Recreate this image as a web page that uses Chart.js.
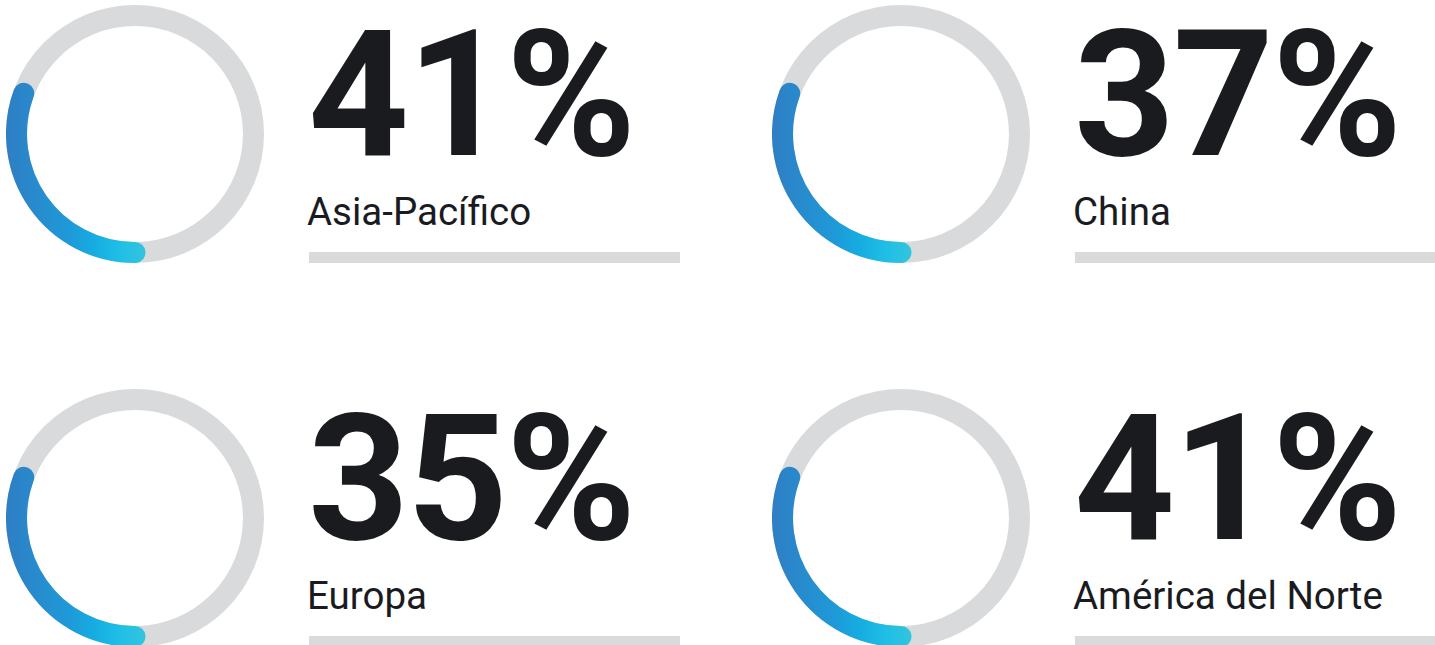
<!DOCTYPE html>
<html>
<head>
<meta charset="utf-8">
<script src="https://cdn.jsdelivr.net/npm/chart.js@4"></script>
<style>
  html, body { margin: 0; padding: 0; background: #fff; }
  body { width: 1435px; height: 645px; overflow: hidden; position: relative; font-family: Roboto, "Noto Sans", sans-serif; color: #1a1b1f; }
  .panel { position: absolute; width: 700px; height: 384px; }
  .ring { position: absolute; left: 6px; top: 5px; width: 258px; height: 258px; }
  .value { position: absolute; left: 308px; top: 7px; font-size: 176px; font-weight: 700; line-height: 1; letter-spacing: -2px; white-space: nowrap; }
  .label { position: absolute; left: 307px; top: 193px; font-size: 38.5px; font-weight: 400; line-height: 1; white-space: nowrap; }
  .rule { position: absolute; left: 309px; top: 252px; height: 11px; background: #d9dadc; }
</style>
</head>
<body>
<script>
// region names and the big percentages shown next to each ring
const regions = ['Asia-Pacífico', 'China', 'Europa', 'América del Norte'];
const percents = [41, 37, 35, 41];
// share of the ring that is filled in the picture (all four look the same)
const ringFill = [33.4, 33.4, 33.4, 33.4];

const panelPos = [
    { left: 0, top: 0, rule: 371 },
    { left: 766, top: 0, rule: 360 },
    { left: 0, top: 384, rule: 371 },
    { left: 766, top: 384, rule: 360 }
];

// grey track under the coloured arc, using the arc element's geometry
const trackPlugin = {
    id: 'track',
    beforeDatasetsDraw(chart) {
        const arc = chart.getDatasetMeta(0).data[0];
        if (!arc) return;
        const { x, y, innerRadius, outerRadius } = arc.getProps(['x', 'y', 'innerRadius', 'outerRadius'], true);
        const ctx = chart.ctx;
        ctx.save();
        ctx.beginPath();
        ctx.arc(x, y, outerRadius, 0, Math.PI * 2);
        ctx.arc(x, y, innerRadius, 0, Math.PI * 2, true);
        ctx.fillStyle = '#d9dadc';
        ctx.fill('evenodd');
        ctx.restore();
    }
};

function arcColor(context) {
    if (context.dataIndex !== 0) return 'rgba(0,0,0,0)';
    const chart = context.chart;
    const area = chart.chartArea;
    if (!area) return '#1aa3dc';
    const g = chart.ctx.createLinearGradient(area.left, 0, area.left + area.width / 2 + 12, 0);
    g.addColorStop(0, '#2f7ec4');
    g.addColorStop(0.45, '#1e9ad8');
    g.addColorStop(0.62, '#16ace1');
    g.addColorStop(0.8, '#1fbee5');
    g.addColorStop(1, '#33c5de');
    return g;
}

regions.forEach((name, i) => {
    const pos = panelPos[i];
    const panel = document.createElement('div');
    panel.className = 'panel';
    panel.style.left = pos.left + 'px';
    panel.style.top = pos.top + 'px';
    panel.innerHTML = `
        <div class="ring"><canvas></canvas></div>
        <div class="value">${percents[i]}%</div>
        <div class="label">${name}</div>
        <div class="rule" style="width:${pos.rule}px"></div>
    `;
    document.body.appendChild(panel);

    const canvas = panel.querySelector('canvas');
    new Chart(canvas, {
        type: 'doughnut',
        data: {
            labels: [name, ''],
            datasets: [{
                data: [ringFill[i], 100 - ringFill[i]],
                backgroundColor: arcColor,
                borderWidth: 0,
                borderRadius: (c) => c.dataIndex === 0 ? 10.5 : 0,
                hoverOffset: 0
            }]
        },
        options: {
            responsive: true,
            maintainAspectRatio: false,
            animation: false,
            rotation: 174.9,
            cutout: '83.7%',
            events: [],
            layout: { padding: 0 },
            plugins: {
                legend: { display: false },
                tooltip: { enabled: false }
            }
        },
        plugins: [trackPlugin]
    });
});
</script>
</body>
</html>
